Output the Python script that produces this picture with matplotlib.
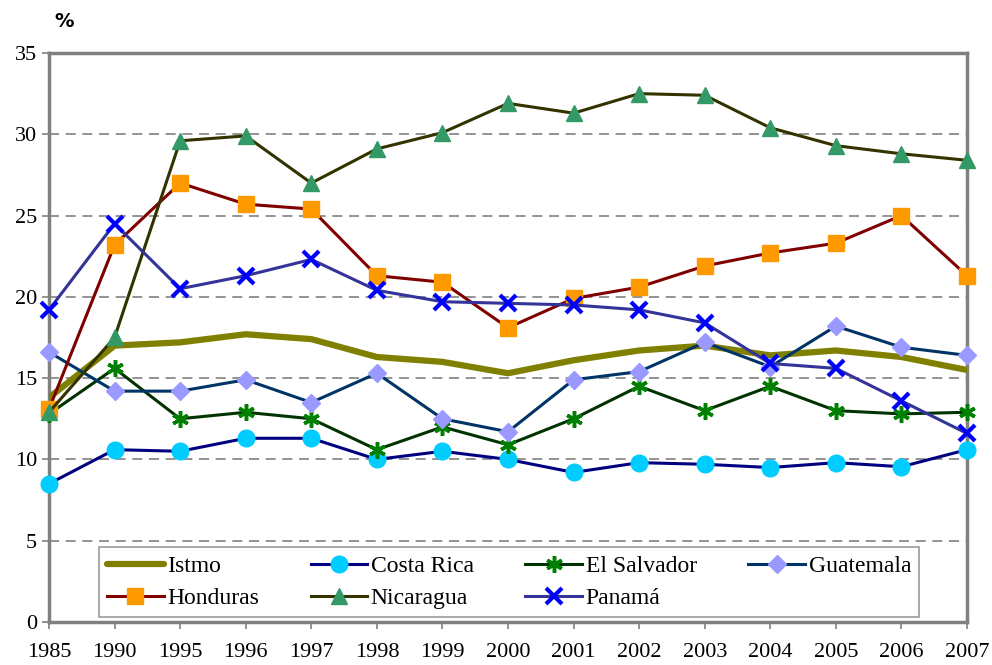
import numpy as np
import matplotlib.pyplot as plt

# ==========================================================
# Data
# ==========================================================

years = ['1985', '1990', '1995', '1996', '1997', '1998', '1999', '2000',
         '2001', '2002', '2003', '2004', '2005', '2006', '2007']

istmo = [13.8, 17.0, 17.2, 17.7, 17.4, 16.3, 16.0, 15.3, 16.1, 16.7,
         17.0, 16.4, 16.7, 16.3, 15.5]
costa_rica = [8.5, 10.6, 10.5, 11.3, 11.3, 10.0, 10.5, 10.0, 9.2, 9.8,
              9.7, 9.5, 9.8, 9.55, 10.6]
el_salvador = [12.8, 15.6, 12.5, 12.9, 12.5, 10.6, 12.0, 10.9, 12.5, 14.5,
               13.0, 14.5, 13.0, 12.8, 12.9]
guatemala = [16.6, 14.2, 14.2, 14.9, 13.5, 15.3, 12.5, 11.7, 14.9, 15.4,
             17.2, 15.7, 18.2, 16.9, 16.4]
honduras = [13.1, 23.2, 27.0, 25.7, 25.4, 21.3, 20.9, 18.1, 19.9, 20.6,
            21.9, 22.7, 23.3, 25.0, 21.3]
nicaragua = [12.9, 17.5, 29.6, 29.9, 27.0, 29.1, 30.1, 31.9, 31.3, 32.5,
             32.4, 30.4, 29.3, 28.8, 28.4]
panama = [19.2, 24.5, 20.5, 21.3, 22.3, 20.4, 19.7, 19.6, 19.5, 19.2,
          18.4, 15.9, 15.6, 13.6, 11.6]

# ==========================================================
# Figure
# ==========================================================

plt.rcParams['font.family'] = 'serif'
plt.rcParams['font.serif'] = ['Liberation Serif', 'DejaVu Serif']

fig = plt.figure(figsize=(9.92, 6.65), dpi=100)
ax = fig.add_axes([0.0494, 0.0647, 0.9254, 0.8556])

x = np.arange(len(years))
lw = 2.2

# Istmo (thick olive line, no markers)
l_ist, = ax.plot(x, istmo, color='#808000', linewidth=4.5, label='Istmo',
                 solid_capstyle='round', zorder=3)

l_cr, = ax.plot(x, costa_rica, color='#000080', linewidth=lw, marker='o',
                markersize=12, markerfacecolor='#00CCFF',
                markeredgecolor='#00CCFF', label='Costa Rica', zorder=4,
                clip_on=False)

l_es, = ax.plot(x, el_salvador, color='#003300', linewidth=lw,
                marker=(6, 2, 0), markersize=12, markeredgecolor='#008000',
                markeredgewidth=2.5, label='El Salvador', zorder=4,
                clip_on=False)

l_gu, = ax.plot(x, guatemala, color='#003366', linewidth=lw, marker='D',
                markersize=9, markerfacecolor='#9999FF',
                markeredgecolor='#9999FF', label='Guatemala', zorder=4,
                clip_on=False)

l_ho, = ax.plot(x, honduras, color='#800000', linewidth=lw, marker='s',
                markersize=12, markerfacecolor='#FF9900',
                markeredgecolor='#FF9900', label='Honduras', zorder=4,
                clip_on=False)

l_ni, = ax.plot(x, nicaragua, color='#333300', linewidth=lw, marker='^',
                markersize=12, markerfacecolor='#339966',
                markeredgecolor='#339966', label='Nicaragua', zorder=4,
                clip_on=False)

l_pa, = ax.plot(x, panama, color='#333399', linewidth=lw, marker='x',
                markersize=12, markeredgecolor='#0000FF', markeredgewidth=3,
                label='Panamá', zorder=4, clip_on=False)

# ==========================================================
# Axes formatting
# ==========================================================

ax.set_xlim(0, len(years) - 1)
ax.set_ylim(0, 35)
ax.set_xticks(x)
ax.set_xticklabels(years)
ax.set_yticks(np.arange(0, 36, 5))

ax.tick_params(axis='both', labelsize=16, length=5, width=1.2,
               color='#808080', direction='out')
ax.tick_params(axis='x', pad=10)

for side in ['left', 'bottom', 'top', 'right']:
    ax.spines[side].set_color('#808080')
    ax.spines[side].set_linewidth(2.5)

for yv in range(5, 35, 5):
    ax.axhline(yv, color='#808080', linestyle=(0, (6, 4)), linewidth=1.2,
               zorder=1)

ax.text(0.006, 1.055, '%', transform=ax.transAxes, fontsize=14,
        fontweight='bold', ha='left', va='center', fontfamily='DejaVu Sans')

# ==========================================================
# Legend (row-wise order via column-major reordering)
# ==========================================================

handles = [l_ist, l_ho, l_cr, l_ni, l_es, l_pa, l_gu]

leg = ax.legend(handles=handles, labels=[h.get_label() for h in handles],
                loc='lower left', bbox_to_anchor=(0.054, 0.008, 0.894, 0.12),
                mode='expand', ncol=4, fontsize=17, frameon=True,
                fancybox=False, edgecolor='#808080', handlelength=2.4,
                handletextpad=0.15, borderpad=0.35, labelspacing=0.45,
                columnspacing=0.8, borderaxespad=0)
leg.get_frame().set_linewidth(1.2)
leg.set_zorder(10)

fig.savefig('out.png', dpi=100)
